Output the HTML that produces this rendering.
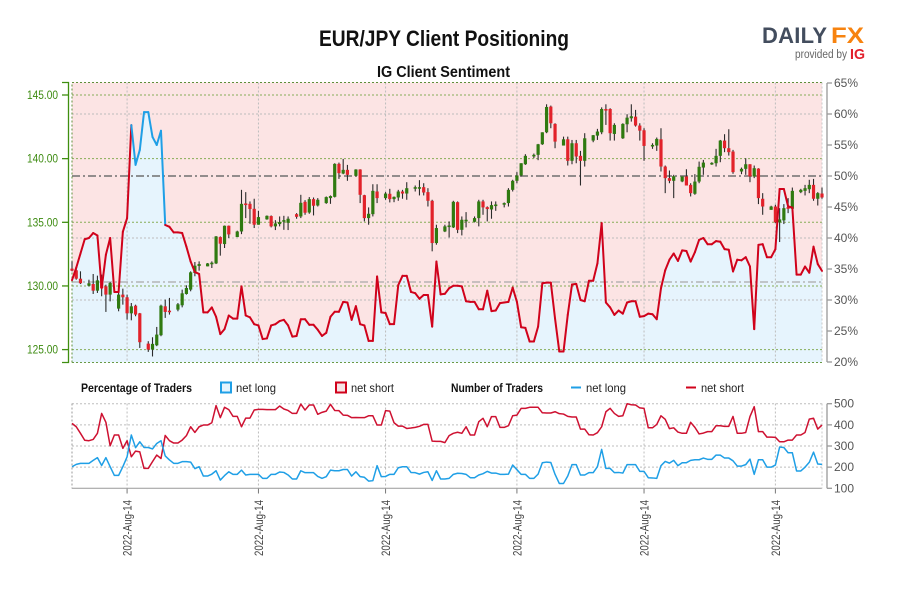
<!DOCTYPE html>
<html lang="en">
<head>
<meta charset="utf-8">
<title>EUR/JPY Client Positioning</title>
<style>
html,body{margin:0;padding:0;background:#fff;width:900px;height:600px;overflow:hidden}
svg{display:block}
text{font-family:"Liberation Sans",sans-serif}
</style>
</head>
<body>
<svg id="chart" xmlns="http://www.w3.org/2000/svg" width="900" height="600" viewBox="0 0 900 600">
  <rect x="0" y="0" width="900" height="600" fill="#ffffff"/>
  <text x="319" y="46" font-size="22" font-weight="700" fill="#111" textLength="250" lengthAdjust="spacingAndGlyphs">EUR/JPY Client Positioning</text>
  <text x="377" y="77" font-size="16" font-weight="700" fill="#111" textLength="133" lengthAdjust="spacingAndGlyphs">IG Client Sentiment</text>
  <g>
    <text x="762" y="43" font-size="22" font-weight="700" fill="#434d5e" textLength="65" lengthAdjust="spacing">DAILY</text>
    <text x="831" y="43" font-size="22" font-weight="700" fill="#f7830f" textLength="33" lengthAdjust="spacingAndGlyphs">FX</text>
    <text x="795" y="58" font-size="11.5" fill="#666" textLength="52" lengthAdjust="spacingAndGlyphs">provided by</text>
    <text x="850" y="59" font-size="15" font-weight="700" fill="#e2202c" textLength="15" lengthAdjust="spacingAndGlyphs">IG</text>
  </g>
  <g id="mainPlot"></g>
  <g id="lowerPlot"></g>
  <g>
    <text x="81" y="392" font-size="12" font-weight="700" fill="#111" textLength="111" lengthAdjust="spacingAndGlyphs">Percentage of Traders</text>
    <rect x="221" y="382.5" width="10" height="10" fill="#e6f4fd" stroke="#1f9fe6" stroke-width="2"/>
    <text x="236" y="392" font-size="12" fill="#222" textLength="40" lengthAdjust="spacingAndGlyphs">net long</text>
    <rect x="336" y="382.5" width="10" height="10" fill="#f6e4e6" stroke="#d0021b" stroke-width="2"/>
    <text x="351" y="392" font-size="12" fill="#222" textLength="43" lengthAdjust="spacingAndGlyphs">net short</text>
    <text x="451" y="392" font-size="12" font-weight="700" fill="#111" textLength="92" lengthAdjust="spacingAndGlyphs">Number of Traders</text>
    <line x1="571" x2="581" y1="387.5" y2="387.5" stroke="#1f9fe6" stroke-width="2"/>
    <text x="586" y="392" font-size="12" fill="#222" textLength="40" lengthAdjust="spacingAndGlyphs">net long</text>
    <line x1="686" x2="696" y1="387.5" y2="387.5" stroke="#d0021b" stroke-width="2"/>
    <text x="701" y="392" font-size="12" fill="#222" textLength="43" lengthAdjust="spacingAndGlyphs">net short</text>
  </g>
</svg>
<script>
const priceTicks = [145, 140, 135, 130, 125];
const pctTicks = [65, 60, 55, 50, 45, 40, 35, 30, 25, 20];
const pctGrid = [60, 40, 30];
const countTicks = [500, 400, 300, 200, 100];
const dateTickIndex = [13, 44, 74, 105, 135, 166];
const dateTickLabels = ["2022-Aug-14", "2022-Aug-14", "2022-Aug-14", "2022-Aug-14", "2022-Aug-14", "2022-Aug-14"];
const neutralPct = 50;
const averagePct = 32.9;

const candleOpen = [
131.36,131.23,130.57,null,
130.02,130.15,129.63,130.44,129.97,129.32,null,
128.22,129.32,129.11,127.85,128.45,127.85,null,
125.47,125.00,125.34,126.13,128.40,128.06,null,
128.14,128.48,129.37,129.71,131.02,131.57,null,
131.54,131.72,131.77,133.84,133.29,134.73,null,
133.84,134.28,136.48,136.45,136.06,134.81,null,
135.23,135.49,134.68,134.86,135.12,134.96,null,
135.64,135.46,136.61,135.77,136.82,136.32,null,
136.51,136.90,137.00,139.59,138.83,139.12,null,
138.65,139.15,137.13,135.33,135.64,137.42,null,
136.90,137.24,136.82,136.95,137.42,137.26,null,
137.68,137.68,137.76,137.37,136.69,133.37,null,
134.28,134.68,134.60,136.58,134.41,135.15,null,
135.04,135.33,136.64,136.19,136.01,136.32,null,
136.43,136.51,137.55,138.26,138.68,139.56,null,
140.22,140.30,141.13,142.07,144.09,142.73,null,
141.03,141.52,139.83,141.21,140.22,139.83,null,
141.42,141.81,142.07,143.90,143.90,141.94,null,
141.60,142.70,143.17,143.30,142.60,142.23,null,
141.00,141.03,141.52,139.38,138.47,138.26,null,
138.21,138.60,137.94,137.24,138.20,139.30,null,
139.56,139.64,140.22,141.42,140.82,140.56,null,
138.99,139.20,139.56,138.60,139.22,136.85,null,
135.98,136.24,134.99,135.15,136.19,136.06,null,
137.37,137.47,137.60,137.94,136.85,137.26];
const candleHigh = [
131.93,131.54,131.15,null,
130.49,130.94,130.81,130.89,130.10,130.31,null,
129.71,129.79,129.32,128.66,128.53,127.88,null,
125.66,125.97,126.78,128.53,128.93,129.06,null,
128.66,129.71,130.05,131.15,131.88,131.93,null,
131.80,131.93,133.92,133.89,134.75,134.75,null,
134.34,137.55,137.37,136.64,136.85,135.90,null,
135.54,135.54,135.17,135.46,135.51,135.46,null,
135.72,137.16,136.74,136.98,136.95,136.90,null,
137.03,137.11,139.64,139.69,139.98,139.51,null,
139.17,139.17,137.16,136.17,137.99,137.99,null,
137.37,137.63,137.03,137.55,137.55,138.15,null,
137.89,138.31,138.07,137.68,136.77,134.81,null,
134.81,135.07,136.69,136.64,135.46,135.80,null,
135.46,136.77,136.77,136.25,136.64,136.64,null,
136.56,137.68,138.34,138.94,139.64,140.35,null,
140.40,141.16,142.07,144.27,144.17,142.78,null,
141.73,141.73,141.47,141.47,140.61,142.00,null,
141.86,142.34,144.03,144.27,143.96,142.78,null,
142.78,143.49,144.27,143.83,142.78,142.39,null,
141.21,141.66,142.39,139.46,139.07,138.73,null,
138.60,139.17,138.07,138.78,139.77,139.90,null,
139.72,140.77,141.47,141.92,142.31,140.69,null,
139.30,140.03,139.56,139.46,139.25,137.29,null,
136.30,136.38,136.11,136.43,136.90,137.73,null,
137.63,137.94,138.34,138.41,137.37,137.73];
const candleLow = [
131.15,130.49,130.15,null,
129.97,129.37,129.45,129.19,127.96,128.79,null,
128.01,128.53,127.36,127.30,127.62,125.13,null,
124.82,124.46,125.27,126.05,127.49,127.75,null,
128.01,128.32,129.32,129.58,130.76,131.20,null,
131.54,131.41,131.72,132.38,132.98,133.76,null,
133.84,134.07,135.33,134.89,134.55,134.81,null,
135.20,134.60,134.39,134.68,134.41,134.39,null,
135.28,135.33,135.59,135.67,135.54,136.24,null,
136.45,136.45,136.95,138.41,138.78,138.26,null,
138.60,136.51,135.07,134.81,135.46,136.51,null,
136.77,136.56,136.58,136.69,136.85,136.77,null,
137.42,137.11,137.11,136.24,132.72,133.24,null,
134.23,133.81,134.55,134.15,133.97,134.60,null,
134.99,134.68,135.59,135.07,135.28,135.90,null,
136.17,136.24,137.42,138.07,138.60,139.51,null,
140.04,139.88,141.08,142.00,142.39,140.82,null,
141.03,139.46,139.56,139.64,137.89,139.38,null,
141.29,141.47,141.92,142.65,141.42,141.42,null,
141.55,142.07,142.91,142.52,141.42,139.83,null,
140.77,140.61,138.99,137.29,138.07,136.90,null,
138.15,137.89,137.03,137.16,138.07,138.73,null,
139.51,139.38,139.72,140.51,140.24,138.81,null,
138.78,138.73,138.15,138.47,136.43,135.59,null,
135.98,134.94,133.45,134.86,135.72,136.06,null,
137.29,137.11,137.29,136.69,136.32,136.85];
const candleClose = [
131.20,130.57,130.21,null,
130.21,129.63,130.44,129.84,129.32,130.23,null,
129.32,129.11,127.85,128.40,127.75,125.58,null,
125.00,125.45,126.18,128.45,127.96,128.01,null,
128.56,129.42,129.84,131.07,131.59,131.72,null,
131.77,131.83,133.89,133.32,134.73,134.05,null,
134.28,136.45,136.40,136.04,134.81,135.41,null,
135.51,134.68,134.91,135.02,135.17,135.28,null,
135.43,136.53,135.75,136.82,136.30,136.77,null,
136.98,137.06,139.59,138.86,139.12,138.73,null,
139.15,137.16,135.33,135.67,137.47,136.90,null,
137.26,136.82,137.00,137.42,137.26,137.68,null,
137.76,137.76,137.34,136.69,133.37,134.55,null,
134.68,134.75,136.61,134.41,135.20,135.20,null,
135.33,136.64,136.17,136.04,136.35,136.40,null,
136.51,137.55,138.26,138.68,139.64,140.22,null,
140.30,141.13,142.07,144.06,142.78,141.34,null,
141.52,139.83,141.21,140.17,139.83,141.60,null,
141.84,142.13,143.90,143.85,142.00,142.65,null,
142.73,143.22,143.33,142.60,142.20,141.00,null,
141.08,141.55,139.38,138.47,138.26,138.62,null,
138.60,137.89,137.29,138.20,139.36,139.69,null,
139.67,140.22,141.42,140.82,140.51,138.94,null,
139.20,139.56,138.60,139.25,136.90,136.24,null,
136.24,134.99,135.23,136.11,136.06,137.47,null,
137.55,137.68,137.94,136.85,137.29,136.95];

const netLongPct = [
33.2,35.2,37.5,39.8,40.0,40.8,40.4,31.9,37.3,40.0,31.3,31.3,41.0,43.2,58.2,51.8,54.2,60.3,60.3,56.3,
55.0,57.3,42.1,41.8,40.9,40.9,40.8,38.6,36.2,34.5,34.2,28.0,28.0,28.8,27.3,24.5,25.3,27.5,27.0,27.0,
32.2,27.5,27.2,26.1,25.9,23.7,23.8,25.9,26.1,26.6,26.8,25.9,24.1,24.2,26.9,26.9,26.0,26.0,
25.2,24.2,24.7,27.3,28.1,28.1,29.7,29.6,26.8,29.0,26.1,25.9,23.4,23.4,33.8,28.0,27.9,26.1,26.1,32.4,
33.9,33.9,31.3,31.1,30.2,30.8,30.8,25.7,36.2,30.9,31.0,31.9,32.3,32.3,32.2,29.8,29.7,29.7,28.5,28.5,
31.5,28.2,28.3,29.5,29.6,29.7,32.0,29.7,25.6,25.5,23.3,23.3,25.7,32.7,32.8,32.8,27.0,21.7,21.7,27.6,
32.5,32.6,30.0,
29.8,33.1,33.1,35.9,42.4,29.6,28.8,27.6,28.3,27.8,29.6,29.8,29.8,27.3,27.4,27.8,27.7,26.9,31.9,34.8,
36.5,37.5,36.3,38.0,37.9,36.2,37.7,39.7,40.0,39.0,39.0,39.5,39.4,38.2,38.1,34.6,36.5,36.4,36.9,35.4,
25.3,38.9,39.0,36.9,36.9,38.2,47.9,47.9,45.1,44.9,34.1,34.1,35.4,34.4,38.6,35.8,34.7];

const netLongCount = [
202,213,218,218,218,232,245,208,245,202,
161,161,202,249,352,292,320,293,293,286,
312,325,253,234,218,218,226,226,224,193,
202,158,158,167,183,139,160,178,166,166,
186,163,166,166,166,147,147,166,166,177,
175,163,144,144,183,174,174,174,156,147,
155,186,183,183,189,189,158,178,155,152,
134,136,207,155,156,166,166,197,202,202,
175,174,167,175,178,137,183,144,144,147,
166,171,170,
166,150,150,163,169,180,172,172,166,166,
167,210,188,166,166,147,147,167,221,224,
222,166,123,123,158,212,212,163,163,174,
174,202,284,194,194,174,175,172,212,212,
212,180,180,150,149,147,207,227,219,232,
207,221,221,232,235,235,243,237,237,257,
257,243,243,230,205,205,212,238,166,235,
235,200,200,210,295,293,268,268,182,182,
200,223,271,215,213];

const netShortCount = [
407,391,360,327,325,331,360,454,412,301,
352,352,289,325,249,276,272,194,194,226,
257,241,350,325,314,314,328,349,391,364,
391,399,399,410,491,434,483,472,440,440,
391,432,432,470,473,473,472,472,472,489,
475,468,454,454,498,470,494,494,450,459,
465,497,468,467,446,445,434,435,434,434,
443,443,399,399,467,465,410,394,394,383,
385,388,393,402,402,323,322,322,316,349,
360,365,360,
391,352,352,415,431,391,439,439,388,388,
396,443,446,478,478,483,483,483,457,456,
456,462,453,451,440,437,437,380,380,353,
352,363,391,462,478,454,440,443,500,495,
494,480,478,386,386,402,443,426,382,386,
366,360,360,412,388,357,361,368,368,396,
396,393,393,440,360,360,364,439,486,368,
368,342,342,341,320,320,328,328,352,352,
364,427,431,380,399];

const slotCount = 177;
const plotLeft = 72, plotRight = 822, mainTop = 82.5, mainBottom = 362.5, lowTop = 403.5, lowBottom = 488.5;
function xAt(i) { return plotLeft + i * (plotRight - plotLeft) / slotCount; }
function priceY(p) { return 95 + (145 - p) * 12.73; }
function pctY(p) { return 83 + (65 - p) * 6.2; }
function countY(v) { return 403.7 + (500 - v) * 0.2115; }

const NS = 'http://www.w3.org/2000/svg';
function mk(tag, parent, attrs, txt) {
  const el = document.createElementNS(NS, tag);
  for (const k in attrs) el.setAttribute(k, attrs[k]);
  if (txt !== undefined) el.textContent = txt;
  parent.appendChild(el);
  return el;
}
function pathFrom(vals, yFn, from, to) {
  let d = '';
  for (let i = from; i <= to; i++) d += (i === from ? 'M' : 'L') + xAt(i).toFixed(2) + ' ' + yFn(vals[i]).toFixed(2);
  return d;
}

const main = document.getElementById('mainPlot');
const low = document.getElementById('lowerPlot');
let el;

el = mk('rect', main, {x: plotLeft, y: mainTop, width: plotRight - plotLeft, height: mainBottom - mainTop, fill: '#fce4e4'});



el = mk('path', main, {d: pathFrom(netLongPct, pctY, 0, netLongPct.length - 1) + 'L' + xAt(netLongPct.length - 1).toFixed(2) + ' ' + mainBottom + 'L' + plotLeft + ' ' + mainBottom + 'Z', fill: '#e6f4fd'});



pctGrid.forEach(function (p) {
  const g = mk('line', main, {x1: plotLeft, x2: plotRight, y1: pctY(p), y2: pctY(p), stroke: '#bdbdbd', 'stroke-width': 1, 'stroke-dasharray': '2 2'});
  
  
});
priceTicks.forEach(function (p) {
  const g = mk('line', main, {x1: plotLeft, x2: plotRight, y1: priceY(p), y2: priceY(p), stroke: '#86ad57', 'stroke-width': 1, 'stroke-dasharray': '2 2'});
  
  
});
dateTickIndex.forEach(function (i) {
  const g = mk('line', main, {x1: xAt(i), x2: xAt(i), y1: mainTop, y2: mainBottom, stroke: '#bdbdbd', 'stroke-width': 1, 'stroke-dasharray': '2 2'});
  
  
});

el = mk('line', main, {x1: plotLeft, x2: plotRight, y1: pctY(averagePct), y2: pctY(averagePct), stroke: '#a9a9a9', 'stroke-width': 1.2, 'stroke-dasharray': '8 3 2 3'});


el = mk('line', main, {x1: plotLeft, x2: plotRight, y1: pctY(neutralPct), y2: pctY(neutralPct), stroke: '#6f6f6f', 'stroke-width': 1.4, 'stroke-dasharray': '8 3 2 3'});



el = mk('path', main, {d: 'M' + plotLeft + ' ' + mainBottom + 'V' + mainTop + 'H' + plotRight, fill: 'none', stroke: '#5f8f3a', 'stroke-width': 1, 'stroke-dasharray': '2 2'});


el = mk('path', main, {d: 'M' + plotLeft + ' ' + mainBottom + 'H' + plotRight, fill: 'none', stroke: '#6b9a45', 'stroke-width': 1, 'stroke-dasharray': '2 2'});


el = mk('line', main, {x1: plotRight, x2: plotRight, y1: mainTop, y2: mainBottom, stroke: '#c8c8c8', 'stroke-width': 1, 'stroke-dasharray': '2 2'});



candleOpen.forEach(function (o, i) {
  if (o === null) return;
  const c = candleClose[i], up = c >= o;
  const x = xAt(i);
  const wick = mk('line', main, {x1: x, x2: x, y1: priceY(candleHigh[i]), y2: priceY(candleLow[i]), stroke: '#2b2b2b', 'stroke-width': 1.1});
  
  
  const top = priceY(Math.max(o, c)), bot = priceY(Math.min(o, c));
  const body = mk('rect', main, {x: x - 1.6, y: top, width: 3.2, height: Math.max(1.6, bot - top), fill: up ? '#2f7a10' : '#e2222a'});
  
  
});

for (let i = 0; i < netLongPct.length - 1; i++) {
  const seg = mk('line', main, {x1: xAt(i), y1: pctY(netLongPct[i]), x2: xAt(i + 1), y2: pctY(netLongPct[i + 1]), stroke: netLongPct[i] > neutralPct ? '#1f9fe6' : '#d0021b', 'stroke-width': 2, 'stroke-linecap': 'round'});
  
  
}

el = mk('path', main, {d: 'M62 ' + mainTop + 'H68.5V' + mainBottom + 'H62', fill: 'none', stroke: '#3f8f10', 'stroke-width': 1.3});


priceTicks.forEach(function (p) {
  const t = mk('line', main, {x1: 62, x2: 68.5, y1: priceY(p), y2: priceY(p), stroke: '#3f8f10', 'stroke-width': 1.3});
  
  
  const l = mk('text', main, {x: 27, y: priceY(p) + 4, 'font-size': 11.5, fill: '#3d8b11', textLength: 31, lengthAdjust: 'spacingAndGlyphs'}, p.toFixed(2));
  
  
});

el = mk('line', main, {x1: 827, x2: 827, y1: pctY(65), y2: pctY(20), stroke: '#999', 'stroke-width': 1.3});


pctTicks.forEach(function (p) {
  const t = mk('line', main, {x1: 827, x2: 832, y1: pctY(p), y2: pctY(p), stroke: '#999', 'stroke-width': 1.3});
  
  
  const l = mk('text', main, {x: 834, y: pctY(p) + 4, 'font-size': 12, fill: '#555'}, p + '%');
  
  
});

countTicks.forEach(function (v) {
  const g = mk('line', low, {x1: plotLeft, x2: plotRight, y1: countY(v), y2: countY(v), stroke: v === 100 ? '#999' : '#bdbdbd', 'stroke-width': 1, 'stroke-dasharray': v === 100 ? 'none' : '2 2'});
  
  
  const t = mk('line', low, {x1: 827, x2: 832, y1: countY(v), y2: countY(v), stroke: '#999', 'stroke-width': 1.3});
  
  
  const l = mk('text', low, {x: 834, y: countY(v) + 4, 'font-size': 12, fill: '#555'}, String(v));
  
  
});
el = mk('line', low, {x1: 827, x2: 827, y1: countY(500), y2: countY(100), stroke: '#999', 'stroke-width': 1.3});


el = mk('line', low, {x1: plotLeft, x2: plotLeft, y1: lowTop, y2: lowBottom, stroke: '#999', 'stroke-width': 1, 'stroke-dasharray': '2 2'});


el = mk('line', low, {x1: plotRight, x2: plotRight, y1: lowTop, y2: lowBottom, stroke: '#c8c8c8', 'stroke-width': 1, 'stroke-dasharray': '2 2'});



dateTickIndex.forEach(function (i, k) {
  const x = xAt(i);
  const g = mk('line', low, {x1: x, x2: x, y1: lowTop, y2: lowBottom, stroke: '#bdbdbd', 'stroke-width': 1, 'stroke-dasharray': '2 2'});
  
  
  const t = mk('line', low, {x1: x, x2: x, y1: lowBottom, y2: lowBottom + 5, stroke: '#777', 'stroke-width': 1});
  
  
  const l = mk('text', low, {x: 0, y: 0, 'font-size': 12, fill: '#444', transform: 'translate(' + (x + 4.5) + ' 556) rotate(-90)', textLength: 56, lengthAdjust: 'spacingAndGlyphs'}, dateTickLabels[k]);
  
  
});

el = mk('path', low, {d: pathFrom(netShortCount, countY, 0, netShortCount.length - 1), fill: 'none', stroke: '#ce1131', 'stroke-width': 1.5, 'stroke-linejoin': 'round'});


el = mk('path', low, {d: pathFrom(netLongCount, countY, 0, netLongCount.length - 1), fill: 'none', stroke: '#1f9fe6', 'stroke-width': 1.5, 'stroke-linejoin': 'round'});


</script>
</body>
</html>
